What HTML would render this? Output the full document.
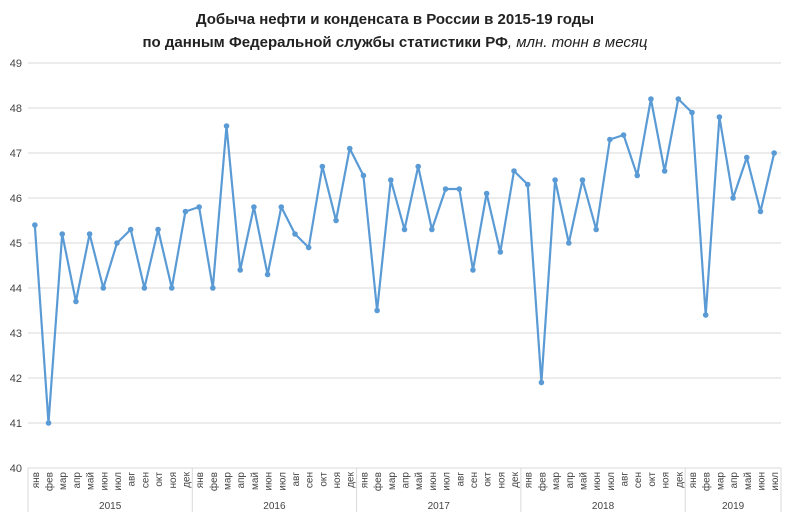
<!DOCTYPE html>
<html><head><meta charset="utf-8"><style>
body{margin:0;background:#fff}
svg{display:block;font-family:"Liberation Sans",sans-serif}
</style></head><body>
<svg id="s" width="790" height="520" xmlns="http://www.w3.org/2000/svg">
<text x="395" y="24" text-anchor="middle" font-size="15" font-weight="bold" fill="#222">Добыча нефти и конденсата в России в 2015-19 годы</text>
<text x="395" y="47" text-anchor="middle" font-size="15" fill="#222"><tspan font-weight="bold">по данным Федеральной службы статистики РФ</tspan><tspan font-style="italic">, млн. тонн в месяц</tspan></text>
</svg>
<script>
var s=document.getElementById('s'),ns='http://www.w3.org/2000/svg';
function el(t,a,txt){var e=document.createElementNS(ns,t);for(var k in a)e.setAttribute(k,a[k]);if(txt)e.textContent=txt;s.appendChild(e);return e;}
var L=28,R=781,n=55,w=(R-L)/n;
function Y(v){return 468-(v-40)*45;}
for(var v=40;v<=49;v++){el('line',{x1:L,x2:R,y1:Y(v),y2:Y(v),stroke:'#d9d9d9','stroke-width':1});
el('text',{x:22,y:Y(v)+4,'text-anchor':'end','font-size':11,fill:'#444'},v);}
var m=['янв','фев','мар','апр','май','июн','июл','авг','сен','окт','ноя','дек'];
for(var i=0;i<n;i++){var x=L+w*(i+0.5);
el('text',{transform:'translate('+(x+4)+',472) rotate(-90)','text-anchor':'end','font-size':10,fill:'#444'},m[i%12]);}
var yrs=['2015','2016','2017','2018','2019'];
for(var y=0;y<=5;y++){var xs=y<5?L+w*12*y:R;el('line',{x1:xs,x2:xs,y1:468,y2:512,stroke:'#d9d9d9'});}
for(var y=0;y<5;y++){var a=L+w*12*y,b=Math.min(L+w*12*(y+1),R);el('text',{x:(a+b)/2,y:509,'text-anchor':'middle','font-size':10,fill:'#444'},yrs[y]);}
var d=[45.4,41.0,45.2,43.7,45.2,44.0,45.0,45.3,44.0,45.3,44.0,45.7,
45.8,44.0,47.6,44.4,45.8,44.3,45.8,45.2,44.9,46.7,45.5,47.1,
46.5,43.5,46.4,45.3,46.7,45.3,46.2,46.2,44.4,46.1,44.8,46.6,
46.3,41.9,46.4,45.0,46.4,45.3,47.3,47.4,46.5,48.2,46.6,48.2,
47.9,43.4,47.8,46.0,46.9,45.7,47.0];
var p=d.map(function(v,i){return (L+w*(i+0.5)).toFixed(1)+','+Y(v).toFixed(1)}).join(' ');
el('polyline',{points:p,fill:'none',stroke:'#5b9bd5','stroke-width':2.2,'stroke-linejoin':'round'});
d.forEach(function(v,i){el('circle',{cx:L+w*(i+0.5),cy:Y(v),r:2.8,fill:'#5b9bd5'});});
</script>
</body></html>
